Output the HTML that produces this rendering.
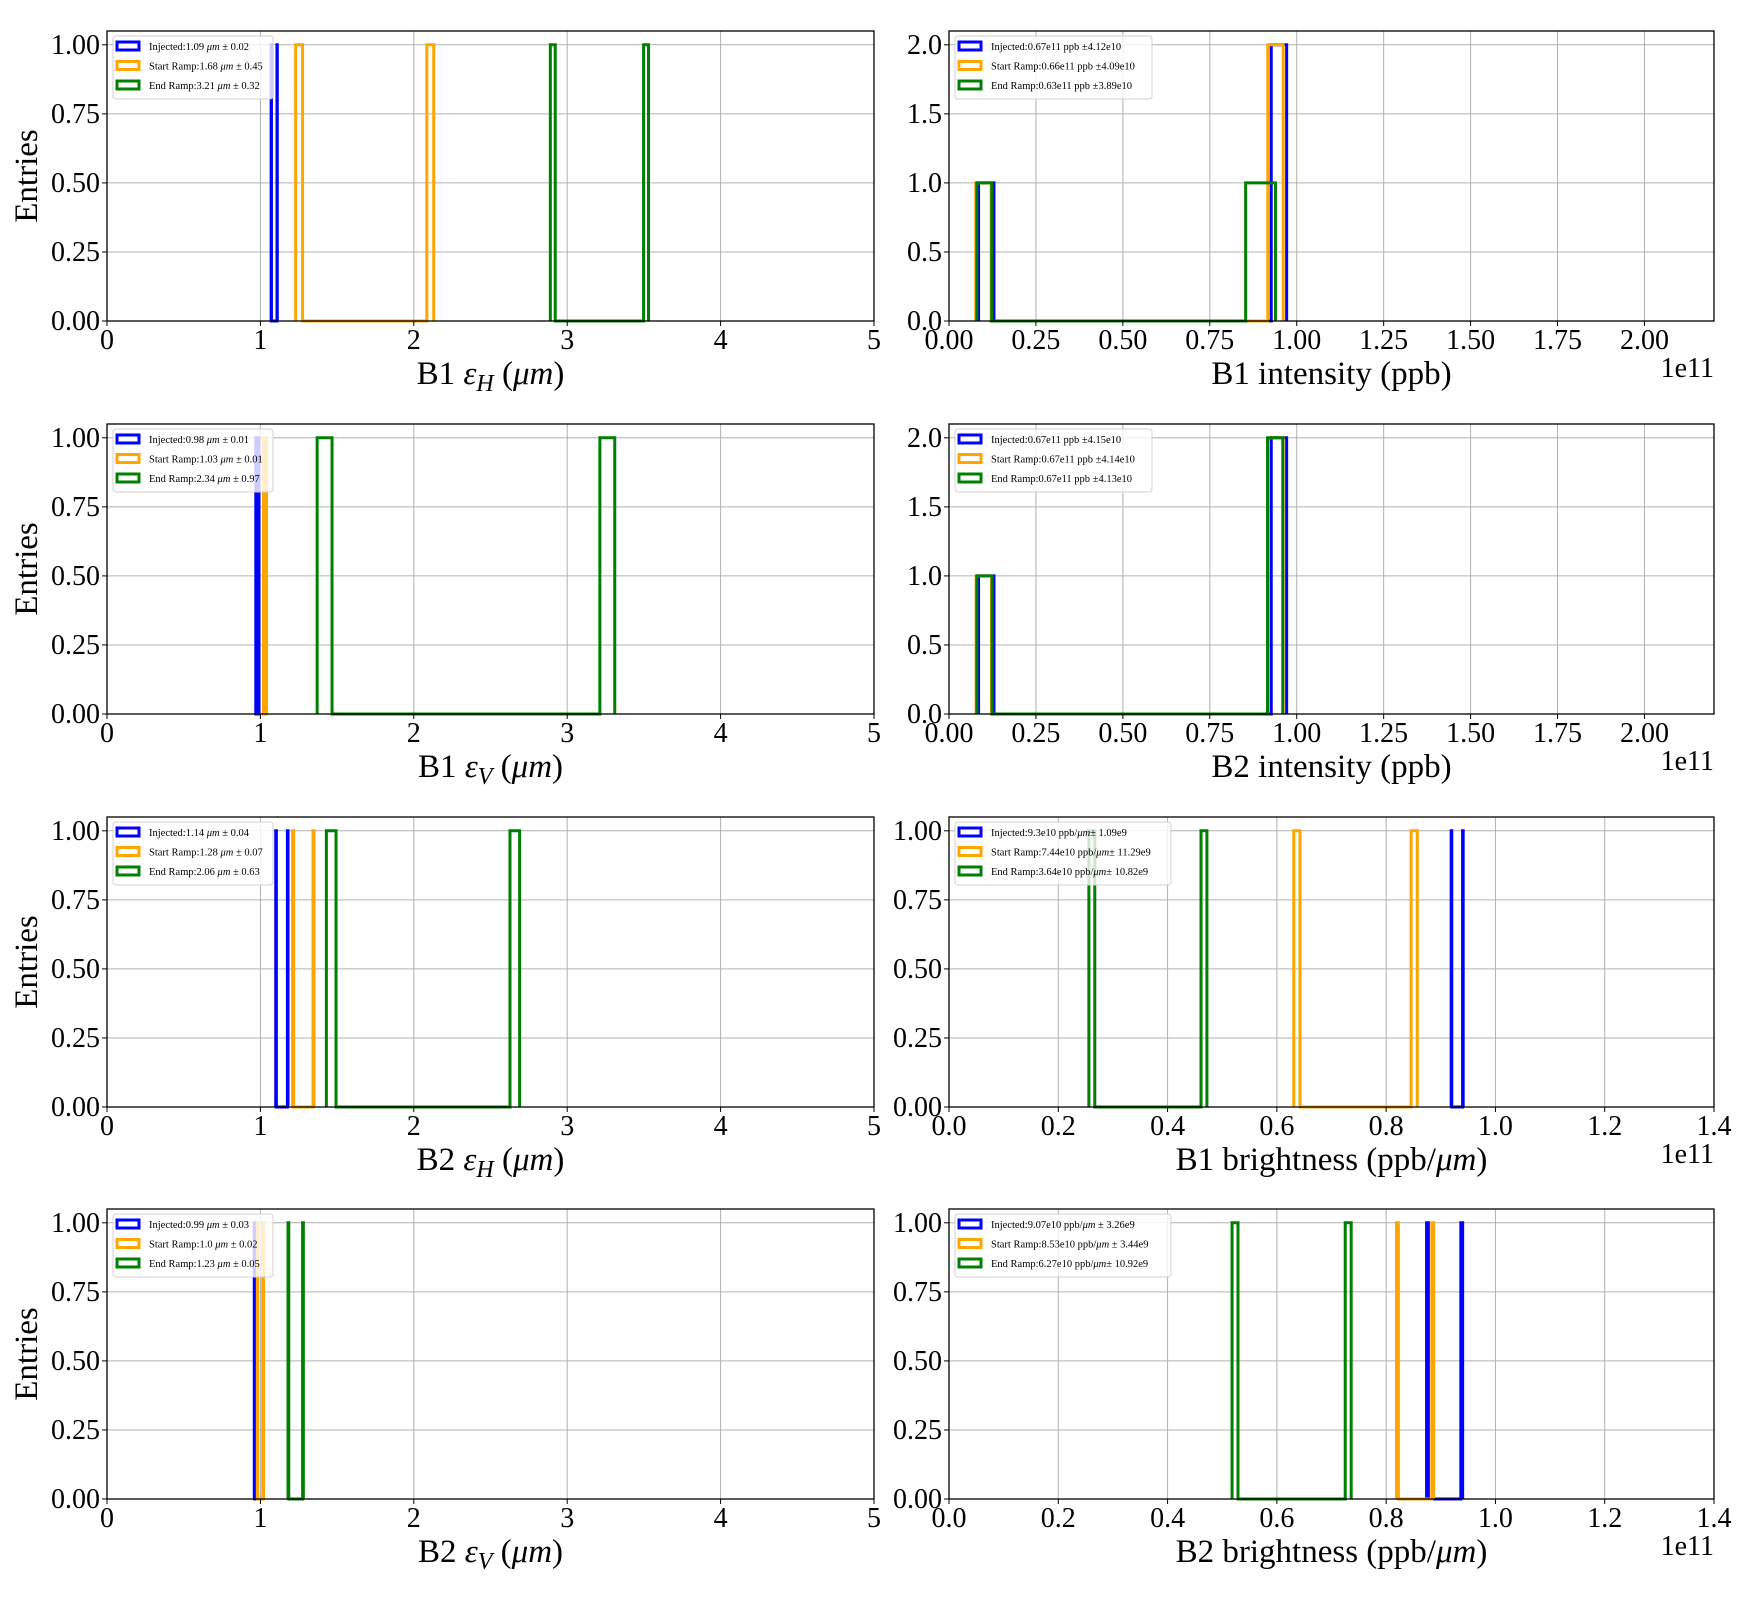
<!DOCTYPE html>
<html><head><meta charset="utf-8"><style>
html,body{margin:0;padding:0;background:#fff;}
svg{display:block;font-family:"Liberation Serif","DejaVu Serif",serif;}
</style></head><body>
<svg id="fig" width="1760" height="1600" viewBox="0 0 1760 1600" xmlns="http://www.w3.org/2000/svg"></svg>
<script>
// ---- data ----
const seriesNames = ["Injected","Start Ramp","End Ramp"];
const seriesColors = ["#0000ff","#ffa500","#008000"];
const panelTitles = ["B1 εH","B1 intensity","B1 εV","B2 intensity","B2 εH","B1 brightness","B2 εV","B2 brightness"];
// per panel, per series: [lo, hi] range of 20 equal bins (data units)
const ranges = [
  [[1.07,1.11],[1.23,2.13],[2.89,3.53]],
  [[0.085,0.971],[0.077,0.961],[0.080,0.939]],
  [[0.97,0.99],[1.02,1.04],[1.37,3.31]],
  [[0.085,0.971],[0.078,0.961],[0.080,0.960]],
  [[1.10,1.18],[1.21,1.35],[1.43,2.69]],
  [[0.919,0.941],[0.631,0.857],[0.256,0.472]],
  [[0.96,1.02],[0.98,1.02],[1.18,1.28]],
  [[0.874,0.940],[0.819,0.887],[0.518,0.736]]
];
// per panel, per series: 20 bin counts
const c11 = [1,0,0,0,0,0,0,0,0,0,0,0,0,0,0,0,0,0,0,1];
const c12 = [1,0,0,0,0,0,0,0,0,0,0,0,0,0,0,0,0,0,0,2];
const c111 = [1,0,0,0,0,0,0,0,0,0,0,0,0,0,0,0,0,0,1,1];
const counts = [
  [c11,c11,c11],
  [c12,c12,c111],
  [c11,c11,c11],
  [c12,c12,c12],
  [c11,c11,c11],
  [c11,c11,c11],
  [c11,c11,c11],
  [c11,c11,c11]
];
const legendTexts = [
  ["Injected:1.09 |μm| ± 0.02","Start Ramp:1.68 |μm| ± 0.45","End Ramp:3.21 |μm| ± 0.32"],
  ["Injected:0.67e11 ppb ±4.12e10","Start Ramp:0.66e11 ppb ±4.09e10","End Ramp:0.63e11 ppb ±3.89e10"],
  ["Injected:0.98 |μm| ± 0.01","Start Ramp:1.03 |μm| ± 0.01","End Ramp:2.34 |μm| ± 0.97"],
  ["Injected:0.67e11 ppb ±4.15e10","Start Ramp:0.67e11 ppb ±4.14e10","End Ramp:0.67e11 ppb ±4.13e10"],
  ["Injected:1.14 |μm| ± 0.04","Start Ramp:1.28 |μm| ± 0.07","End Ramp:2.06 |μm| ± 0.63"],
  ["Injected:9.3e10 ppb/|μm|± 1.09e9","Start Ramp:7.44e10 ppb/|μm|± 11.29e9","End Ramp:3.64e10 ppb/|μm|± 10.82e9"],
  ["Injected:0.99 |μm| ± 0.03","Start Ramp:1.0 |μm| ± 0.02","End Ramp:1.23 |μm| ± 0.05"],
  ["Injected:9.07e10 ppb/|μm| ± 3.26e9","Start Ramp:8.53e10 ppb/|μm| ± 3.44e9","End Ramp:6.27e10 ppb/|μm|± 10.92e9"]
];
const xTicksEmit = [0,1,2,3,4,5];
const xTicksInt = [0,0.25,0.5,0.75,1.0,1.25,1.5,1.75,2.0];
const xTicksBri = [0,0.2,0.4,0.6,0.8,1.0,1.2,1.4];
const yTicks1 = [0,0.25,0.5,0.75,1.0];
const yTicks2 = [0,0.5,1.0,1.5,2.0];

// ---- layout ----
const NS="http://www.w3.org/2000/svg";
const svg=document.getElementById('fig');
const colX=[[107,874],[949,1714]];
const rowY=[31,424,817,1209];
const H=290;
function el(tag,attrs,parent){const e=document.createElementNS(NS,tag);for(const k in attrs)e.setAttribute(k,attrs[k]);(parent||svg).appendChild(e);return e;}

for(let p=0;p<8;p++){
  const col=p%2,row=Math.floor(p/2);
  const L=colX[col][0],R=colX[col][1],T=rowY[row],B=T+H;
  const isInt=(p===1||p===3),isBri=(p===5||p===7);
  const xmax=isInt?2.2:(isBri?1.4:5);
  const ymax=isInt?2.1:1.05;
  const xt=isInt?xTicksInt:(isBri?xTicksBri:xTicksEmit);
  const yt=isInt?yTicks2:yTicks1;
  const xs=v=>L+(R-L)*v/xmax;
  const ys=v=>B-H*v/ymax;
  const g=el('g',{});
  
  
  xt.forEach(v=>{const l=el('line',{x1:xs(v),x2:xs(v),y1:T,y2:B,stroke:'#b0b0b0','stroke-width':1},g);
    });
  yt.forEach(v=>{const l=el('line',{x1:L,x2:R,y1:ys(v),y2:ys(v),stroke:'#b0b0b0','stroke-width':1},g);
    });
  for(let s=0;s<3;s++){
    const [lo,hi]=ranges[p][s];const c=counts[p][s];const n=c.length;const w=(hi-lo)/n;
    let d='M'+xs(lo)+','+ys(0);
    for(let i=0;i<n;i++){d+=' L'+xs(lo+i*w)+','+ys(c[i])+' L'+xs(lo+(i+1)*w)+','+ys(c[i]);}
    d+=' L'+xs(hi)+','+ys(0);
    const path=el('path',{d:d,fill:'none',stroke:seriesColors[s],'stroke-width':3,'stroke-linejoin':'miter'},g);
    
    
  }
  const fr=el('rect',{x:L,y:T,width:R-L,height:H,fill:'none',stroke:'#000','stroke-width':1.3},g);
  
  const dec=isInt?2:(isBri?1:0);
  xt.forEach(v=>{el('line',{x1:xs(v),x2:xs(v),y1:B,y2:B+5,stroke:'#000','stroke-width':1},g);
    const t=el('text',{x:xs(v),y:B+28,'font-size':28,'text-anchor':'middle',fill:'#000'},g);t.textContent=v.toFixed(dec);
    });
  const ydec=isInt?1:2;
  yt.forEach(v=>{el('line',{x1:L-5,x2:L,y1:ys(v),y2:ys(v),stroke:'#000','stroke-width':1},g);
    const t=el('text',{x:L-7,y:ys(v)+9,'font-size':28,'text-anchor':'end',fill:'#000'},g);t.textContent=v.toFixed(ydec);
    });
  if(isInt||isBri){const t=el('text',{x:R,y:B+56,'font-size':28,'text-anchor':'end',fill:'#000'},g);t.textContent='1e11';
    }
  const xl=el('text',{x:(L+R)/2,y:B+63,'font-size':33,'text-anchor':'middle',fill:'#000'},g);
  
  const title=panelTitles[p];
  if(title.indexOf('ε')>=0){
    const parts=title.split('ε');
    const a=el('tspan',{},xl);a.textContent=parts[0];
    const e=el('tspan',{'font-style':'italic'},xl);e.textContent='ε';
    const sub=el('tspan',{'font-style':'italic','font-size':24,dy:7},xl);sub.textContent=parts[1];
    const r=el('tspan',{dy:-7},xl);r.textContent=' (';
    const m=el('tspan',{'font-style':'italic'},xl);m.textContent='μm';
    const r2=el('tspan',{},xl);r2.textContent=')';
  } else if(isBri){
    const a=el('tspan',{},xl);a.textContent=title+' (ppb/';
    const m=el('tspan',{'font-style':'italic'},xl);m.textContent='μm';
    const r2=el('tspan',{},xl);r2.textContent=')';
  } else {xl.textContent=title+' (ppb)';}
  if(col===0){const yl=el('text',{x:0,y:0,'font-size':33,'text-anchor':'middle',fill:'#000',transform:'translate(37,'+(T+H/2)+') rotate(-90)'},g);
    yl.textContent='Entries';}
  const lg=el('g',{},g);
  const lw=(isBri?216:(isInt?197:160));
  el('rect',{x:L+6,y:T+5,width:lw,height:63,rx:3,fill:'#fff','fill-opacity':0.8,stroke:'#d0d0d0','stroke-width':1},lg);
  for(let s=0;s<3;s++){
    const cy=T+15+s*19.5;
    const e=el('g',{},lg);
    el('rect',{x:L+10,y:cy-4,width:22,height:8,fill:'#fff',stroke:seriesColors[s],'stroke-width':3},e);
    const t=el('text',{x:L+42,y:cy+4,'font-size':10.5,fill:'#000'},e);
    legendTexts[p][s].split('|').forEach((part,i)=>{const sp=el('tspan',i%2?{'font-style':'italic'}:{},t);sp.textContent=part;});
  }
}
</script>
</body></html>
